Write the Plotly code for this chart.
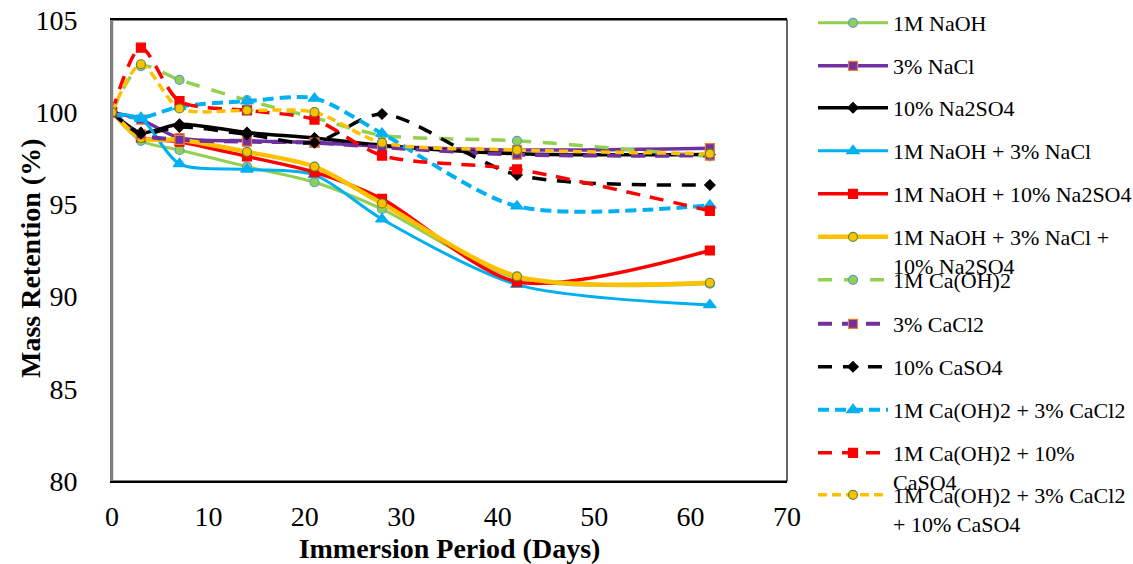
import plotly.graph_objects as go

days = [0, 3, 7, 14, 21, 28, 42, 62]

names = [
    "1M NaOH",
    "3% NaCl",
    "10% Na2SO4",
    "1M NaOH + 3% NaCl",
    "1M NaOH + 10% Na2SO4",
    "1M NaOH + 3% NaCl +<br>10% Na2SO4",
    "1M Ca(OH)2",
    "3% CaCl2",
    "10% CaSO4",
    "1M Ca(OH)2 + 3% CaCl2",
    "1M Ca(OH)2 + 10%<br>CaSO4",
    "1M Ca(OH)2 + 3% CaCl2<br>+ 10% CaSO4",
]

naoh = [100, 98.45, 97.95, 97.05, 96.2, 94.75, 91.0, 90.7]
nacl = [100, 99.6, 98.6, 98.45, 98.35, 98.15, 97.95, 98.05]
na2so4 = [100, 98.9, 99.35, 98.9, 98.6, 98.2, 97.75, 97.7]
naoh_nacl = [99.9, 99.65, 97.2, 96.9, 96.6, 94.2, 90.65, 89.55]
naoh_na2so4 = [100, 98.65, 98.4, 97.6, 96.75, 95.3, 90.8, 92.5]
naoh_nacl_na2so4 = [100, 98.6, 98.5, 97.85, 97.05, 95.05, 91.1, 90.75]
caoh2 = [100, 102.5, 101.75, 100.65, 99.7, 98.75, 98.45, 97.6]
cacl2 = [100, 98.8, 98.5, 98.4, 98.35, 98.1, 97.7, 97.65]
caso4 = [100, 98.85, 99.2, 98.8, 98.35, 99.9, 96.6, 96.05]
caoh2_cacl2 = [99.9, 99.7, 100.3, 100.6, 100.75, 98.85, 94.9, 94.95]
caoh2_caso4 = [100, 103.5, 100.6, 100.1, 99.6, 97.65, 96.9, 94.65]
caoh2_cacl2_caso4 = [100, 102.6, 100.2, 100.1, 100.0, 98.35, 97.95, 97.75]

series = [naoh, nacl, na2so4, naoh_nacl, naoh_na2so4, naoh_nacl_na2so4,
          caoh2, cacl2, caso4, caoh2_cacl2, caoh2_caso4, caoh2_cacl2_caso4]

GREEN = "#92D050"
PURPLE = "#7030A0"
BLACK = "#000000"
BLUE = "#00B0F0"
RED = "#FF0000"
YELLOW = "#FFC000"

styles = [
    dict(color=GREEN, width=3, dash="solid", symbol="circle", size=9, mfill=GREEN, mline="#5B9BD5"),
    dict(color=PURPLE, width=3.5, dash="solid", symbol="square", size=9, mfill=PURPLE, mline="#ED7D31"),
    dict(color=BLACK, width=3.5, dash="solid", symbol="diamond", size=8, mfill=BLACK, mline=BLACK),
    dict(color=BLUE, width=3, dash="solid", symbol="triangle-up", size=11, mfill=BLUE, mline=BLUE),
    dict(color=RED, width=3.5, dash="solid", symbol="square", size=9, mfill=RED, mline=RED),
    dict(color=YELLOW, width=4.5, dash="solid", symbol="circle", size=9, mfill=YELLOW, mline="#5E8C31"),
    dict(color=GREEN, width=3.5, dash="14px,12px", symbol="circle", size=9, mfill=GREEN, mline="#5B9BD5"),
    dict(color=PURPLE, width=4, dash="14px,10px", symbol="square", size=9, mfill=PURPLE, mline="#ED7D31"),
    dict(color=BLACK, width=3.5, dash="14px,11px", symbol="diamond", size=8, mfill=BLACK, mline=BLACK),
    dict(color=BLUE, width=4, dash="11px,6px", symbol="triangle-up", size=11, mfill=BLUE, mline=BLUE),
    dict(color=RED, width=3.5, dash="14px,10px", symbol="square", size=9, mfill=RED, mline=RED),
    dict(color=YELLOW, width=3.5, dash="9px,5px", symbol="circle", size=9, mfill=YELLOW, mline="#5E8C31"),
]

# legend entry centre (pixels from top of the page)
legend_centres = [25, 68, 110, 153, 196, 239, 282, 326, 369, 412, 455, 497]

PLOT_LEFT = 112
PLOT_RIGHT = 787
PLOT_TOP = 20
PLOT_BOTTOM = 481
PLOT_W = PLOT_RIGHT - PLOT_LEFT
PLOT_H = PLOT_BOTTOM - PLOT_TOP

fig = go.Figure()
for i, (nm, ys, st) in enumerate(zip(names, series, styles)):
    lname = "legend" if i == 0 else f"legend{i+1}"
    fig.add_trace(go.Scatter(
        x=days, y=ys, name=nm, mode="lines+markers",
        line=dict(color=st["color"], width=st["width"], dash=st["dash"], shape="spline", smoothing=0.8),
        marker=dict(symbol=st["symbol"], size=st["size"], color=st["mfill"],
                    line=dict(color=st["mline"], width=1.2)),
        legend=lname,
    ))

legend_common = dict(
    xanchor="left", yanchor="top", bgcolor="rgba(0,0,0,0)",
    font=dict(family="Liberation Serif", size=22, color="black"),
    itemwidth=70, valign="top", tracegroupgap=0,
)
layout_legends = {}
for i, yc in enumerate(legend_centres):
    lname = "legend" if i == 0 else f"legend{i+1}"
    ytop = (PLOT_BOTTOM - (yc - 23)) / PLOT_H
    layout_legends[lname] = dict(legend_common, x=(813 - PLOT_LEFT) / PLOT_W, y=ytop)

fig.update_layout(
    width=1133, height=564,
    margin=dict(l=PLOT_LEFT, r=1133 - PLOT_RIGHT, t=PLOT_TOP, b=564 - PLOT_BOTTOM, autoexpand=False),
    paper_bgcolor="white", plot_bgcolor="white",
    font=dict(family="Liberation Serif", color="black"),
    showlegend=True,
    **layout_legends,
)

fig.update_xaxes(
    range=[0, 70], dtick=10, tick0=0, showgrid=False, zeroline=False, automargin=False,
    showline=True, linecolor="black", linewidth=1.5, mirror=True,
    ticks="", ticklabelstandoff=10,
    tickfont=dict(family="Liberation Serif", size=28, color="black"),
    title=dict(text="<b>Immersion Period (Days)</b>", standoff=8,
               font=dict(family="Liberation Serif", size=28, color="black")),
)
fig.update_yaxes(
    range=[80, 105], dtick=5, tick0=80, showgrid=False, zeroline=False, automargin=False,
    showline=True, linecolor="#808080", linewidth=2, mirror=False,
    ticks="", ticklabelstandoff=27,
    tickfont=dict(family="Liberation Serif", size=28, color="black"),
)
fig.add_annotation(
    text="<b>Mass Retention (%)</b>", textangle=-90, showarrow=False,
    xref="paper", yref="paper", x=(30 - PLOT_LEFT) / PLOT_W, y=(PLOT_BOTTOM - 258) / PLOT_H,
    xanchor="center", yanchor="middle",
    font=dict(family="Liberation Serif", size=28, color="black"),
)
fig.add_shape(type="rect", xref="paper", yref="paper", x0=0, x1=1, y0=0, y1=1,
              line=dict(color="black", width=1.2), layer="above")
fig.add_shape(type="line", xref="paper", yref="paper", x0=0, x1=0, y0=0, y1=1,
              line=dict(color="#808080", width=2.5), layer="above")

fig.write_html(
    "out.html",
    config={"displayModeBar": False},
    post_script="document.body.style.margin='0';document.body.style.overflow='hidden';",
)
